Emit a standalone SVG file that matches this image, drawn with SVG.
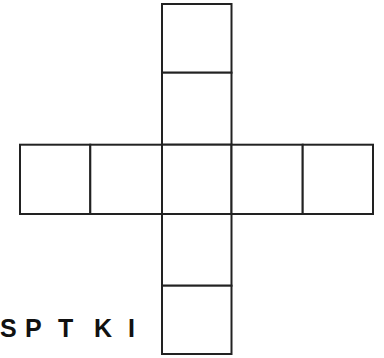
<svg xmlns="http://www.w3.org/2000/svg" width="384" height="358" viewBox="0 0 384 358">
<style>
.cell{fill:#fff;stroke:#222;stroke-width:2}
.lbl{font-family:"Liberation Sans",Arial,sans-serif;font-weight:bold;font-size:25px;fill:#111}
</style>
<rect width="384" height="358" fill="#fff"/>
<g id="v1"><rect class="cell" x="162" y="4" width="69.5" height="68.7"/></g>
<g id="v2"><rect class="cell" x="162" y="72.7" width="69.5" height="72"/></g>
<g id="h1"><rect class="cell" x="20" y="144.7" width="70.3" height="69.3"/></g>
<g id="h2"><rect class="cell" x="90.3" y="144.7" width="71.7" height="69.3"/></g>
<g id="c"><rect class="cell" x="162" y="144.7" width="69.5" height="69.3"/></g>
<g id="h4"><rect class="cell" x="231.5" y="144.7" width="71.2" height="69.3"/></g>
<g id="h5"><rect class="cell" x="302.7" y="144.7" width="70.3" height="69.3"/></g>
<g id="v4"><rect class="cell" x="162" y="214" width="69.5" height="71.7"/></g>
<g id="v5"><rect class="cell" x="162" y="285.7" width="69.5" height="68.3"/></g>
<g id="label"><text class="lbl" x="0 25 58 94 128" y="337">SPTKI</text></g>
</svg>
